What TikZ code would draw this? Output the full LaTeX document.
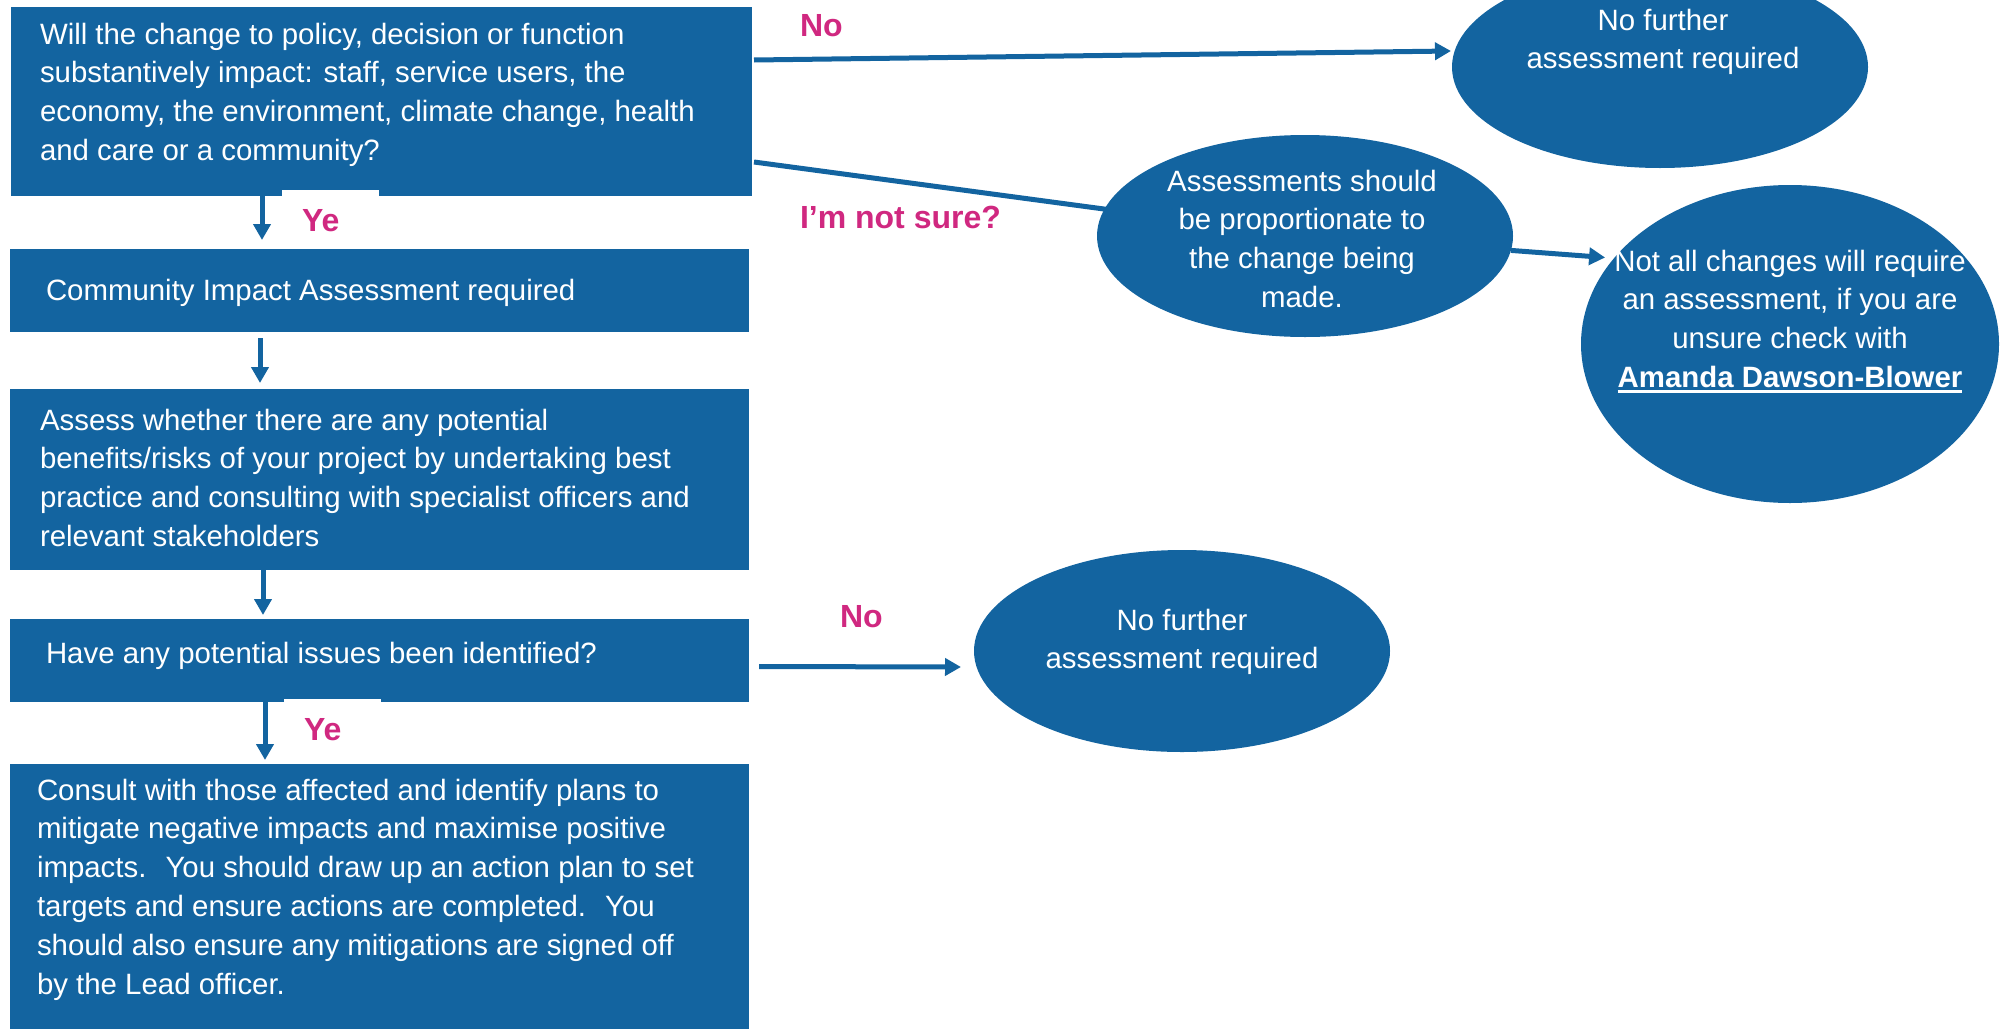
\documentclass[tikz,border=0pt]{standalone}
\usepackage{fontspec}
\setmainfont{Liberation Sans}
\usetikzlibrary{shapes.geometric,arrows.meta,calc}
\definecolor{cblue}{RGB}{19,100,160}
\definecolor{cmag}{RGB}{208,40,128}
\newcommand\llines[1]{\begin{tabular}[t]{@{}l@{}}#1\end{tabular}}
\newcommand\clines[1]{\begin{tabular}[t]{@{}c@{}}#1\end{tabular}}
\newcommand\myul[1]{\setbox0\hbox{#1}\rlap{\rule[-6pt]{\wd0}{3pt}}\box0}
\tikzset{
  boxnode/.style={draw=none,fill=cblue,rectangle,inner sep=0pt,outer sep=0pt,anchor=north west},
  notch/.style={draw=none,fill=white,rectangle,inner sep=0pt,outer sep=0pt,anchor=north west},
  ellnode/.style={draw=none,fill=cblue,ellipse,inner sep=0pt,outer sep=0pt,minimum width=416pt,minimum height=202pt},
  txt/.style={text=white,inner sep=0pt,outer sep=0pt,font=\fontsize{29.4pt}{38.8pt}\selectfont},
  lbl/.style={text=cmag,inner sep=0pt,outer sep=0pt,anchor=base west,font=\fontsize{32pt}{38.8pt}\selectfont\bfseries},
  conn/.style={draw=cblue,line width=5pt},
  arr/.style={draw=cblue,line width=5pt,-{Triangle[length=16pt,width=17pt]}},
}
\begin{document}
\begin{tikzpicture}[x=1pt,y=-1pt]
\useasboundingbox (0,0) rectangle (2001,1028);
\fill[white] (0,0) rectangle (2001,1028);
\clip (0,0) rectangle (2001,1028);

% boxes
\node[boxnode,minimum width=741pt,minimum height=189pt] (b1) at (11,7) {};
\node[boxnode,minimum width=739pt,minimum height=83pt] (b2) at (10,249) {};
\node[boxnode,minimum width=739pt,minimum height=181pt] (b3) at (10,389) {};
\node[boxnode,minimum width=739pt,minimum height=83pt] (b4) at (10,619) {};
\node[boxnode,minimum width=739pt,minimum height=290pt] (b5) at (10,764) {};

% white label patches
\node[notch,minimum width=97pt,minimum height=50pt] (n1) at (282,190) {};
\node[notch,minimum width=97pt,minimum height=45pt] (n2) at (284,699) {};

% box texts
\node[txt,anchor=base west] (t1) at (40,44) {\llines{Will the change to policy, decision or function\\
substantively impact: staff, service users, the\\
economy, the environment, climate change, health\\
and care or a community?}};
\node[txt,anchor=base west] (t2) at (46,300) {Community Impact Assessment required};
\node[txt,anchor=base west] (t3) at (40,430) {\llines{Assess whether there are any potential\\
benefits/risks of your project by undertaking best\\
practice and consulting with specialist officers and\\
relevant stakeholders}};
\node[txt,anchor=base west] (t4) at (46,663) {Have any potential issues been identified?};
\node[txt,anchor=base west] (t5) at (37,800) {\llines{Consult with those affected and identify plans to\\
mitigate negative impacts and maximise positive\\
impacts.~ You should draw up an action plan to set\\
targets and ensure actions are completed.~ You\\
should also ensure any mitigations are signed off\\
by the Lead officer.}};

% labels
\node[lbl] (y1) at (302,231) {Ye};
\node[lbl] (y2) at (304,740) {Ye};
\node[lbl] (no1) at (800,36) {No};
\node[lbl] (ns) at (800,228) {I’m not sure?};
\node[lbl] (no2) at (840,627) {No};

% line behind ellipse
\coordinate (c2) at (1305,236);
\draw[conn] ($(b1.north east)+(2,155)$) -- (c2);

% ellipses
\node[ellnode] (e1) at (1660,67) {};
\node[ellnode] (e2) at (c2) {};
\node[ellnode,minimum width=418pt,minimum height=318pt] (e3) at (1790,344) {};
\node[ellnode] (e4) at (1182,651) {};

% connectors
\draw[arr] ($(b1.south west)+(251,0)$) -- ($(b2.north west)+(252,-9)$);
\draw[arr] ($(b2.south west)+(250,6)$) -- ($(b3.north west)+(250,-6)$);
\draw[arr] ($(b3.south west)+(253,0)$) -- ($(b4.north west)+(253,-4)$);
\draw[arr] ($(b4.south west)+(255,0)$) -- ($(b5.north west)+(255,-4)$);
\draw[arr] ($(b1.north east)+(2,53)$) -- ($(e1.west)+(-1,-16)$);
\draw[arr] ($(b4.east)+(10,6)$) -- ($(e4.west)+(-13,16)$);
\draw[arr,shorten >=9pt] (e2.-4) -- (e3.154);

% ellipse texts
\node[txt,anchor=base] (et1) at (1663,30) {\clines{No further\\assessment required}};
\node[txt,anchor=base] (et2) at (1302,191) {\clines{Assessments should\\be proportionate to\\the change being\\made.}};
\node[txt,anchor=base] (et3) at (1790,271) {\clines{Not all changes will require\\an assessment, if you are\\unsure check with\\\textbf{\myul{Amanda Dawson-Blower}}}};
\node[txt,anchor=base] (et4) at (1182,630) {\clines{No further\\assessment required}};
\end{tikzpicture}
\end{document}
